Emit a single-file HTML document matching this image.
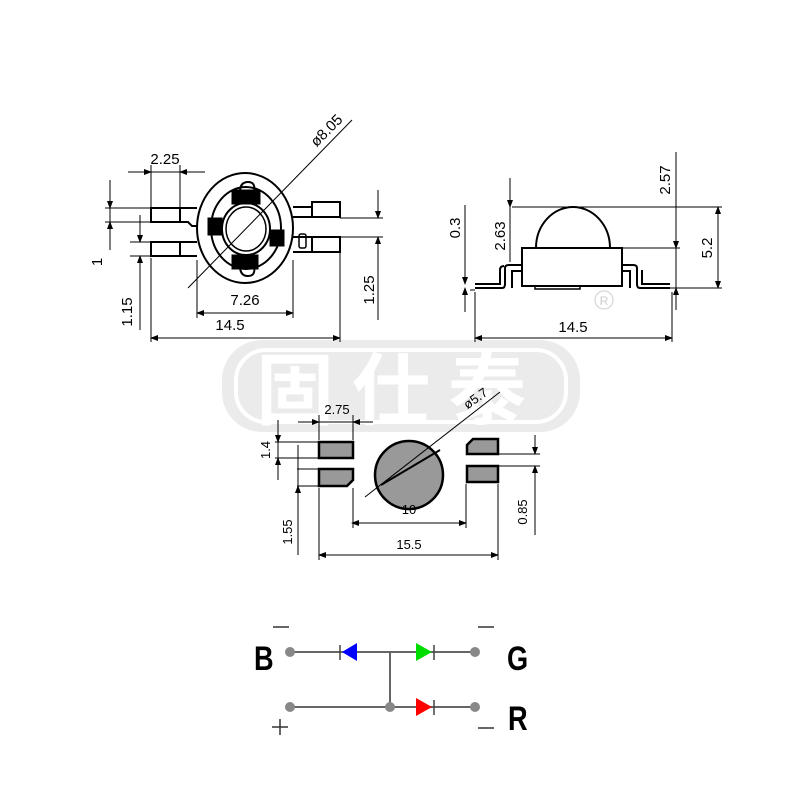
<!DOCTYPE html>
<html><head><meta charset="utf-8"><style>html,body{margin:0;padding:0;background:#fff}svg{display:block}</style></head>
<body>
<svg width="800" height="800" viewBox="0 0 800 800" xmlns="http://www.w3.org/2000/svg" font-family="Liberation Sans, sans-serif">
<defs>
<marker id="a" markerWidth="8" markerHeight="6" refX="7" refY="3" orient="auto-start-reverse" markerUnits="userSpaceOnUse"><path d="M0,0 L8,3 L0,6z" fill="#000"/></marker>
</defs>
<!-- watermark -->
<rect x="222" y="340" width="358" height="92" rx="40" fill="#ebebeb"/>
<rect x="236" y="350" width="330" height="72" rx="30" fill="none" stroke="#fff" stroke-width="4"/>
<text x="400" y="418" text-anchor="middle" font-size="78" font-weight="bold" fill="#fff" font-family="Noto Sans CJK SC, sans-serif" letter-spacing="18">固仕泰</text>
<circle cx="604" cy="300" r="9" fill="none" stroke="#ddd" stroke-width="1.5"/>
<text x="604" y="305" text-anchor="middle" font-size="12" fill="#ccc">R</text>

<g stroke="#000" fill="none" stroke-width="1">
<!-- top view -->
<ellipse cx="245" cy="228" rx="48" ry="55" stroke-width="2"/>
<ellipse cx="246" cy="228" rx="35" ry="41" stroke-width="2"/>
<ellipse cx="246" cy="229" rx="24" ry="26" stroke-width="2"/>
<ellipse cx="246" cy="229" rx="20" ry="22" stroke-width="1.5"/>
<rect x="208" y="218" width="14" height="17" fill="#000"/>
<rect x="270" y="230" width="14" height="16" fill="#000"/>
<rect x="232" y="190" width="28" height="14" fill="#000"/>
<rect x="232" y="255" width="26" height="14" fill="#000"/>
<path d="M240,192 q0,-10 8,-10 q8,0 6,10" stroke-width="2"/>
<path d="M240,266 q0,10 8,10 q8,0 6,-10" stroke-width="2"/>
<rect x="151" y="208" width="29" height="14" stroke-width="2"/>
<path d="M180,208 h17 M180,222 h8 l4,4 h5" stroke-width="2"/>
<rect x="151" y="242" width="29" height="14" stroke-width="2"/>
<path d="M180,242 h17 M180,256 h17" stroke-width="2"/>
<rect x="312" y="202" width="28" height="15" stroke-width="2"/>
<path d="M293,207 h19 M293,217 h19" stroke-width="2"/>
<rect x="312" y="237" width="28" height="15" stroke-width="2"/>
<path d="M293,237 h19 M293,252 h19" stroke-width="2"/>
<rect x="299" y="234" width="7" height="14" rx="2" stroke-width="1.5"/>
<!-- dims top view -->
<line x1="188" y1="288" x2="352" y2="120"/>
<path d="M151,208 V165 M180,208 V165"/>
<line x1="128" y1="172" x2="151" y2="172" marker-end="url(#a)"/>
<line x1="205" y1="172" x2="180" y2="172" marker-end="url(#a)"/>
<line x1="151" y1="172" x2="180" y2="172"/>
<path d="M105,208 H150 M105,222 H150 M130,242 H150 M130,256 H150"/>
<line x1="110" y1="180" x2="110" y2="208" marker-end="url(#a)"/>
<line x1="110" y1="250" x2="110" y2="222" marker-end="url(#a)"/>
<line x1="110" y1="208" x2="110" y2="222"/>
<line x1="140" y1="215" x2="140" y2="242" marker-end="url(#a)"/>
<line x1="140" y1="330" x2="140" y2="256" marker-end="url(#a)"/>
<path d="M197,260 V318 M293,260 V318 M151,258 V342 M340,252 V342"/>
<line x1="197" y1="313" x2="293" y2="313" marker-start="url(#a)" marker-end="url(#a)"/>
<line x1="151" y1="338" x2="340" y2="338" marker-start="url(#a)" marker-end="url(#a)"/>
<path d="M340,218 H383 M340,237 H383"/>
<line x1="378" y1="190" x2="378" y2="218" marker-end="url(#a)"/>
<line x1="378" y1="320" x2="378" y2="237" marker-end="url(#a)"/>

<!-- side view -->
<path d="M536,248 A37,41 0 0 1 610,248" stroke-width="2"/>
<rect x="522" y="248" width="100" height="38" stroke-width="2"/>
<path d="M535,286 h45 v3 h-45z" stroke-width="1.5"/>
<path d="M475,288 H502 Q505,288 505,284 V268 Q505,265 509,265 H522 M475,284 H500 V270 Q500,266 504,266 M512,288 V271 H522" stroke-width="2"/>
<path d="M670,288 H640 Q637,288 637,284 V268 Q637,265 633,265 H622 M670,284 H642 V270 M630,288 V271 H622" stroke-width="2"/>
<path d="M475,290 H470 M512,207 H722 M622,248 H680 M670,288 H722 M475,292 V342 M672,292 V342"/>
<line x1="510" y1="178" x2="510" y2="207" marker-end="url(#a)"/>
<line x1="510" y1="262" x2="510" y2="248"/>
<line x1="510" y1="207" x2="510" y2="248"/>
<line x1="465" y1="205" x2="465" y2="284" marker-end="url(#a)"/>
<line x1="465" y1="312" x2="465" y2="288" marker-end="url(#a)"/>
<line x1="676" y1="152" x2="676" y2="310"/>
<line x1="676" y1="230" x2="676" y2="248" marker-end="url(#a)"/>
<line x1="676" y1="310" x2="676" y2="288" marker-end="url(#a)"/>
<line x1="718" y1="207" x2="718" y2="288" marker-start="url(#a)" marker-end="url(#a)"/>
<line x1="475" y1="338" x2="672" y2="338" marker-start="url(#a)" marker-end="url(#a)"/>

<!-- bottom footprint -->
<rect x="319" y="442" width="34" height="16" fill="#999" stroke-width="2.5"/>
<path d="M319,469 H353 V480 L347,486 H319Z" fill="#999" stroke-width="2.5"/>
<path d="M473,439 H498 V454 H467 V445Z" fill="#999" stroke-width="2.5"/>
<rect x="467" y="466" width="31" height="16" fill="#999" stroke-width="2.5"/>
<circle cx="409" cy="475" r="34" fill="#999" stroke-width="2.5"/>
<line x1="365" y1="497" x2="500" y2="392"/>
<line x1="381" y1="485" x2="440" y2="450" stroke-width="2"/>
<path d="M319,440 V415 M353,440 V415 M353,488 V528 M466,484 V528 M319,488 V560 M498,484 V560"/>
<line x1="298" y1="422" x2="319" y2="422" marker-end="url(#a)"/>
<line x1="373" y1="422" x2="353" y2="422" marker-end="url(#a)"/>
<line x1="319" y1="422" x2="353" y2="422"/>
<line x1="352" y1="523" x2="466" y2="523" marker-start="url(#a)" marker-end="url(#a)"/>
<line x1="319" y1="555" x2="498" y2="555" marker-start="url(#a)" marker-end="url(#a)"/>
<path d="M275,442 H318 M275,458 H318 M297,469 H318 M297,486 H318"/>
<line x1="278" y1="420" x2="278" y2="442" marker-end="url(#a)"/>
<line x1="278" y1="480" x2="278" y2="458" marker-end="url(#a)"/>
<line x1="278" y1="442" x2="278" y2="458"/>
<line x1="298" y1="445" x2="298" y2="555"/>
<line x1="298" y1="486" x2="298" y2="496" marker-start="url(#a)"/>
<path d="M499,454 H540 M499,466 H540"/>
<line x1="535" y1="435" x2="535" y2="454" marker-end="url(#a)"/>
<line x1="535" y1="535" x2="535" y2="466" marker-end="url(#a)"/>
</g>

<g font-size="15" fill="#000">
<text x="165" y="164" text-anchor="middle">2.25</text>
<text x="0" y="0" transform="translate(330,134) rotate(-45)" text-anchor="middle">ø8.05</text>
<text x="0" y="0" transform="translate(102,262) rotate(-90)" text-anchor="middle">1</text>
<text x="0" y="0" transform="translate(132,312) rotate(-90)" text-anchor="middle">1.15</text>
<text x="245" y="305" text-anchor="middle">7.26</text>
<text x="230" y="330" text-anchor="middle">14.5</text>
<text x="0" y="0" transform="translate(374,290) rotate(-90)" text-anchor="middle">1.25</text>
<text x="0" y="0" transform="translate(460,228) rotate(-90)" text-anchor="middle">0.3</text>
<text x="0" y="0" transform="translate(505,236) rotate(-90)" text-anchor="middle">2.63</text>
<text x="0" y="0" transform="translate(670,180) rotate(-90)" text-anchor="middle">2.57</text>
<text x="0" y="0" transform="translate(712,248) rotate(-90)" text-anchor="middle">5.2</text>
<text x="573" y="332" text-anchor="middle">14.5</text>
<text x="337" y="414" text-anchor="middle" font-size="13">2.75</text>
<text x="0" y="0" transform="translate(478,402) rotate(-35)" text-anchor="middle" font-size="13">ø5.7</text>
<text x="0" y="0" transform="translate(270,450) rotate(-90)" text-anchor="middle" font-size="13">1.4</text>
<text x="0" y="0" transform="translate(292,532) rotate(-90)" text-anchor="middle" font-size="13">1.55</text>
<text x="0" y="0" transform="translate(527,512) rotate(-90)" text-anchor="middle" font-size="13">0.85</text>
<text x="409" y="514" text-anchor="middle" font-size="13">10</text>
<text x="409" y="549" text-anchor="middle" font-size="13">15.5</text>
</g>

<!-- circuit -->
<g stroke="#666" stroke-width="2" fill="none">
<path d="M290,652 H475 M290,707 H475 M390,652 V707"/>
<path d="M340,645 V660 M434,645 V660 M434,700 V715" stroke="#444" stroke-width="1.5"/>
</g>
<polygon points="342,652 357,643 357,661" fill="#0000ff"/>
<polygon points="432,652 416,643 416,661" fill="#00dd00"/>
<polygon points="432,707 416,698 416,716" fill="#ff0000"/>
<g fill="#888"><circle cx="290" cy="652" r="5"/><circle cx="475" cy="652" r="5"/><circle cx="290" cy="707" r="5"/><circle cx="390" cy="707" r="5"/><circle cx="475" cy="707" r="5"/></g>
<g font-size="34" font-weight="bold" fill="#000">
<text x="0" y="0" transform="translate(254,670) scale(0.8,1)">B</text>
<text x="0" y="0" transform="translate(507,670) scale(0.8,1)">G</text>
<text x="0" y="0" transform="translate(508,730) scale(0.8,1)">R</text>
</g>
<g stroke="#333" stroke-width="1.5">
<path d="M273,627 H289 M478,627 H494 M478,728 H494 M272,727 H288 M280,719 V735"/>
</g>
</svg>
</body></html>
